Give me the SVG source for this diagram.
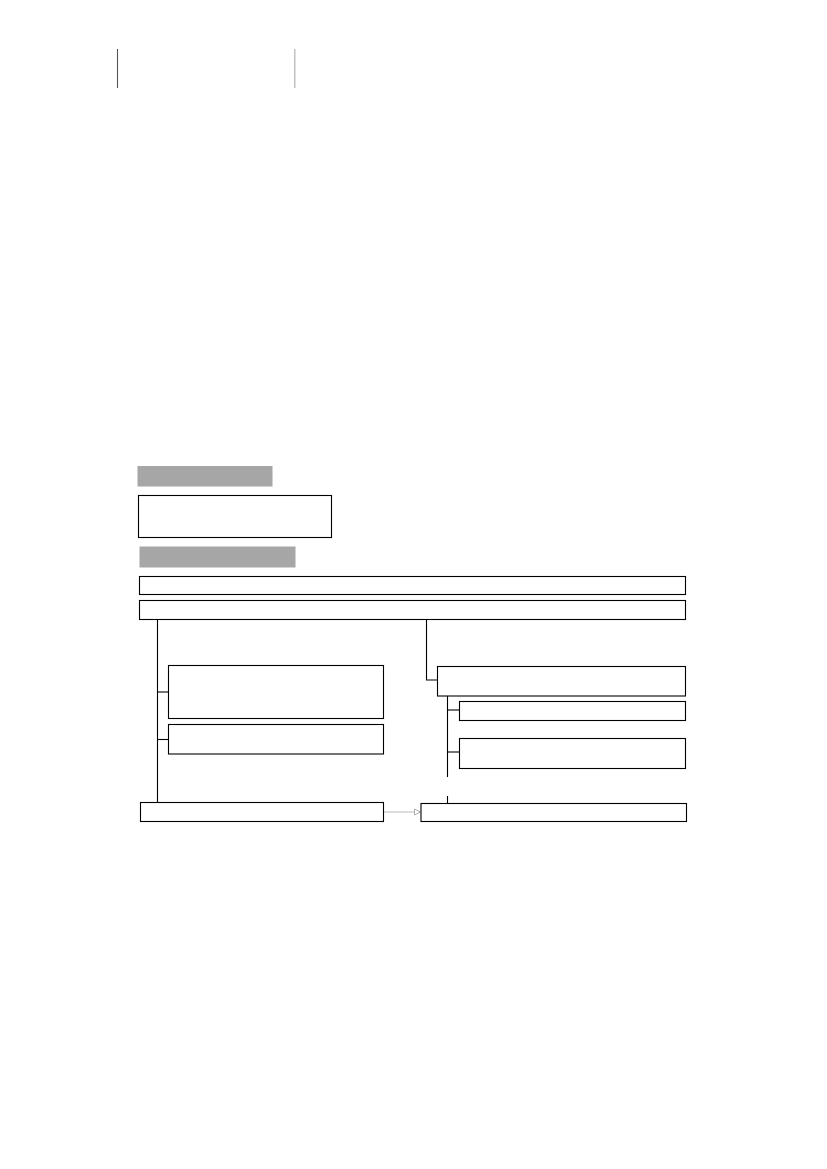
<svg xmlns="http://www.w3.org/2000/svg" width="827" height="1169" viewBox="0 0 827 1169">
<defs>
<style>
.box{fill:#fff;stroke:#000;stroke-width:1.1}
.bar{fill:#a6a6a6}
.ln{fill:none;stroke:#000;stroke-width:1.1}
</style>
<marker id="arr" markerWidth="8" markerHeight="8" refX="7" refY="4" orient="auto" markerUnits="userSpaceOnUse">
<path d="M1,1 L7,4 L1,7 Z" fill="#fff" stroke="#999" stroke-width="0.8"/>
</marker>
</defs>
<rect width="827" height="1169" fill="#fff"/>
<line x1="117.5" y1="49" x2="117.5" y2="88" stroke="#555" stroke-width="1.1"/>
<line x1="294.8" y1="49" x2="294.8" y2="88" stroke="#aaa" stroke-width="1.1"/>
<g id="bar1"><rect class="bar" x="137.5" y="466" width="135" height="20.5"/></g>
<g id="box0"><rect class="box" x="138.5" y="495.5" width="193" height="42" stroke-width="1.3"/></g>
<g id="bar2"><rect class="bar" x="139.5" y="546.5" width="156" height="21"/></g>
<g id="boxA"><rect class="box" x="139.5" y="576.5" width="546" height="18"/></g>
<g id="boxB"><rect class="box" x="139.5" y="600.5" width="546" height="19"/></g>
<g id="connectors">
<path class="ln" d="M157.5,619.5 V802.5"/>
<path class="ln" d="M157.5,692 H168.5" stroke="#555"/>
<path class="ln" d="M157.5,739.5 H168.5"/>
<path class="ln" d="M426.5,619.5 V680 H437.5"/>
<path class="ln" d="M447.5,696 V777"/>
<path class="ln" d="M447.5,796 V803"/>
<path class="ln" d="M447.5,710 H459.5"/>
<path class="ln" d="M447.5,752 H459.5"/>
<line x1="384" y1="812" x2="420.5" y2="812" stroke="#bbb" stroke-width="1.2" marker-end="url(#arr)"/>
</g>
<g id="L1"><rect class="box" x="168.5" y="665.5" width="215" height="53"/></g>
<g id="L2"><rect class="box" x="168.5" y="724.5" width="215" height="29.5"/></g>
<g id="L3"><rect class="box" x="140.5" y="802.5" width="243" height="19"/></g>
<g id="R1"><rect class="box" x="437.5" y="666.5" width="248" height="29.5"/></g>
<g id="R2"><rect class="box" x="459.5" y="701.5" width="226" height="19"/></g>
<g id="R3"><rect class="box" x="459.5" y="738.5" width="226" height="30"/></g>
<g id="R4"><rect class="box" x="421" y="803.5" width="265.5" height="18"/></g>
</svg>
